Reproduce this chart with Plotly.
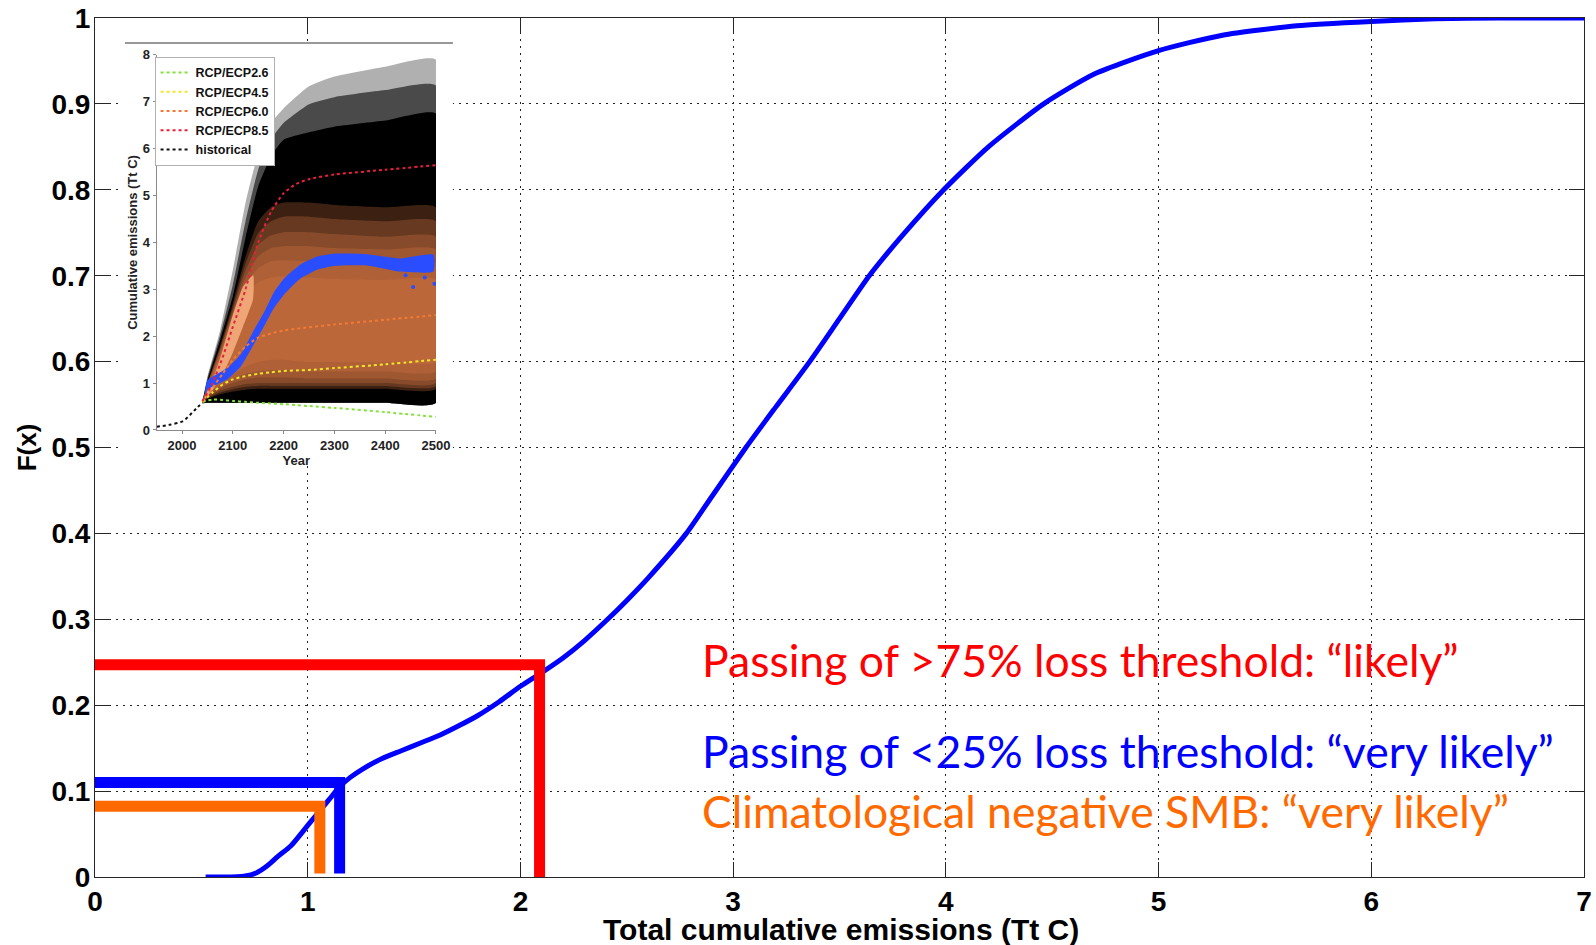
import plotly.graph_objects as go

# ---------------- main chart data ----------------
cdf_x = [0.52, 0.60, 0.70, 0.76, 0.81, 0.86, 0.92, 1.00, 1.05, 1.10, 1.15, 1.20, 1.26,
         1.35, 1.44, 1.53, 1.62, 1.71, 1.80, 1.90, 2.00, 2.10, 2.20, 2.30, 2.41, 2.50,
         2.60, 2.78, 2.90, 3.06, 3.20, 3.36, 3.50, 3.64, 3.80, 3.99, 4.20, 4.46, 4.70,
         5.00, 5.30, 5.65, 6.00, 6.30, 6.60, 7.00]
cdf_F = [0.000, 0.000, 0.001, 0.005, 0.013, 0.024, 0.036, 0.060, 0.075, 0.090, 0.105,
         0.116, 0.126, 0.138, 0.147, 0.156, 0.165, 0.176, 0.188, 0.204, 0.222, 0.238,
         0.255, 0.275, 0.300, 0.322, 0.348, 0.400, 0.443, 0.500, 0.547, 0.600, 0.650,
         0.700, 0.748, 0.800, 0.850, 0.900, 0.935, 0.962, 0.980, 0.991, 0.996, 0.999,
         1.000, 1.000]

# threshold markers: (level on F axis, emission value)
red_level, red_x = 0.247, 2.09
blue_level, blue_x = 0.110, 1.15
orange_level, orange_x = 0.0825, 1.057
bar_floor = 0.004

x_ticks = [0, 1, 2, 3, 4, 5, 6, 7]
y_ticks = [0, 0.1, 0.2, 0.3, 0.4, 0.5, 0.6, 0.7, 0.8, 0.9, 1]

text_red = "Passing of >75% loss threshold: \u201clikely\u201d"
text_blue = "Passing of <25% loss threshold: \u201cvery likely\u201d"
text_orange = "Climatological negative SMB: \u201cvery likely\u201d"

# ---------------- inset data ----------------
hist_years = [1950, 1975, 2000, 2010, 2020, 2030, 2040]
hist_vals = [0.07, 0.11, 0.18, 0.26, 0.37, 0.48, 0.58]

fan_years = [2040, 2050, 2075, 2100, 2125, 2150, 2175, 2200, 2250, 2300, 2400, 2500]
fan_floor = [0.57, 0.58, 0.58, 0.58, 0.58, 0.58, 0.58, 0.58, 0.58, 0.58, 0.58, 0.58]
fan_sparse_top = [0.6, 1.14, 2.13, 3.41, 4.84, 5.90, 6.54, 6.86, 7.33, 7.54, 7.75, 7.90]
fan_gray_top = [0.6, 1.10, 2.02, 3.10, 4.45, 5.55, 6.20, 6.55, 6.95, 7.10, 7.25, 7.35]
fan_dense_top = [0.6, 1.05, 1.92, 2.85, 4.10, 5.20, 5.83, 6.19, 6.35, 6.47, 6.60, 6.75]
# nested orange glow bands (outer to inner)
glow_lo = [
    [0.58, 0.66, 0.76, 0.82, 0.86, 0.88, 0.88, 0.88, 0.88, 0.88, 0.88, 0.88],
    [0.58, 0.68, 0.80, 0.87, 0.92, 0.94, 0.94, 0.94, 0.94, 0.94, 0.94, 0.94],
    [0.58, 0.70, 0.84, 0.92, 0.98, 1.00, 1.00, 1.00, 1.00, 1.00, 1.00, 1.00],
    [0.58, 0.73, 0.90, 1.00, 1.08, 1.12, 1.12, 1.12, 1.10, 1.10, 1.10, 1.10],
    [0.58, 0.76, 0.95, 1.10, 1.20, 1.25, 1.28, 1.28, 1.25, 1.25, 1.25, 1.25],
    [0.58, 0.78, 1.00, 1.20, 1.35, 1.45, 1.50, 1.50, 1.45, 1.45, 1.45, 1.45],
]
glow_hi = [
    [0.60, 0.99, 1.80, 2.70, 3.70, 4.45, 4.75, 4.85, 4.85, 4.80, 4.75, 4.75],
    [0.60, 0.98, 1.76, 2.62, 3.55, 4.20, 4.45, 4.55, 4.55, 4.50, 4.45, 4.45],
    [0.60, 0.96, 1.72, 2.55, 3.40, 3.95, 4.15, 4.22, 4.22, 4.18, 4.12, 4.12],
    [0.60, 0.94, 1.68, 2.48, 3.25, 3.70, 3.88, 3.92, 3.92, 3.88, 3.85, 3.85],
    [0.60, 0.92, 1.62, 2.42, 3.10, 3.45, 3.60, 3.62, 3.60, 3.58, 3.55, 3.55],
    [0.60, 0.90, 1.55, 2.30, 2.90, 3.15, 3.25, 3.28, 3.25, 3.22, 3.20, 3.20],
]
core_years = [2045, 2060, 2080, 2100, 2120, 2140]
core_lo = [0.66, 0.85, 1.20, 1.65, 2.20, 2.80]
core_hi = [0.72, 1.05, 1.70, 2.45, 3.05, 3.30]

blue_years = [2045, 2050, 2090, 2116, 2142, 2161, 2181, 2201, 2233, 2266, 2299, 2364, 2429, 2495]
blue_lo = [0.70, 0.86, 1.09, 1.36, 1.84, 2.20, 2.60, 2.89, 3.23, 3.42, 3.50, 3.51, 3.38, 3.38]
blue_hi = [0.80, 1.06, 1.33, 1.62, 2.14, 2.50, 2.94, 3.23, 3.53, 3.70, 3.76, 3.75, 3.66, 3.74]
blue_pts_years = [2440, 2455, 2462, 2478, 2488, 2497, 2470]
blue_pts_vals = [3.30, 3.05, 3.62, 3.25, 3.45, 3.12, 3.50]

scen_years = [2040, 2060, 2080, 2100, 2125, 2150, 2175, 2200, 2225, 2250, 2300, 2400, 2500]
rcp26 = [0.60, 0.65, 0.64, 0.62, 0.60, 0.58, 0.565, 0.55, 0.53, 0.51, 0.47, 0.38, 0.28]
rcp45 = [0.60, 0.80, 0.97, 1.08, 1.15, 1.20, 1.23, 1.26, 1.27, 1.28, 1.32, 1.40, 1.50]
rcp60 = [0.60, 0.90, 1.20, 1.50, 1.78, 1.97, 2.06, 2.12, 2.16, 2.19, 2.25, 2.35, 2.45]
rcp85 = [0.62, 1.00, 1.55, 2.20, 3.00, 4.00, 4.65, 5.05, 5.25, 5.35, 5.45, 5.55, 5.65]

inset_xticks = [2000, 2100, 2200, 2300, 2400, 2500]
inset_yticks = [0, 1, 2, 3, 4, 5, 6, 7, 8]

# inset placement (fractions of the main plotting area)
panel_x = [0.018, 0.2404]
panel_y = [0.483, 0.971]

# ---------------- figure ----------------
fig = go.Figure()

SANS = "Liberation Sans, Arial, sans-serif"
AX_FONT = dict(family=SANS, size=28, color="black", weight="bold")

# white panel behind the inset: a filled trace on the main axes (drawn above the grid)
px0, px1 = panel_x[0] * 7, panel_x[1] * 7
fig.add_trace(go.Scatter(x=[px0, px1, px1, px0, px0],
                         y=[panel_y[0], panel_y[0], panel_y[1], panel_y[1], panel_y[0]],
                         fill="toself", fillcolor="white", mode="lines",
                         line=dict(width=0, color="white"), showlegend=False,
                         hoverinfo="skip", xaxis="x", yaxis="y"))
fig.add_trace(go.Scatter(x=[px0 + 0.015, px1], y=[panel_y[1], panel_y[1]],
                         mode="lines", line=dict(color="#777777", width=1.5),
                         showlegend=False, hoverinfo="skip", xaxis="x", yaxis="y"))

# main CDF curve
fig.add_trace(go.Scatter(x=cdf_x, y=cdf_F, mode="lines",
                         line=dict(color="#0000ff", width=5, shape="spline", smoothing=0.6),
                         showlegend=False, hoverinfo="skip", xaxis="x", yaxis="y"))

# threshold markers
for lvl, xv, col, floor in [(orange_level, orange_x, "#ff6a00", bar_floor),
                            (blue_level, blue_x, "#0000ff", bar_floor),
                            (red_level, red_x, "#ff0000", 0.0)]:
    fig.add_trace(go.Scatter(x=[0, xv, xv], y=[lvl, lvl, floor], mode="lines",
                             line=dict(color=col, width=11),
                             showlegend=False, hoverinfo="skip", xaxis="x", yaxis="y"))

# ---- inset traces ----
def band(xs, lo, hi, color):
    fig.add_trace(go.Scatter(x=list(xs) + list(xs)[::-1], y=list(hi) + list(lo)[::-1],
                             fill="toself", fillcolor=color, mode="lines",
                             line=dict(width=0, color=color, shape="spline", smoothing=0.5),
                             showlegend=False, hoverinfo="skip", xaxis="x2", yaxis="y2"))

band(fan_years, fan_floor, fan_sparse_top, "#b0b0b0")
band(fan_years, fan_floor, fan_gray_top, "#4a4a4a")
band(fan_years, fan_floor, fan_dense_top, "#000000")
for lo, hi in zip(glow_lo, glow_hi):
    band(fan_years, lo, hi, "rgba(220,122,70,0.27)")
band(core_years, core_lo, core_hi, "rgba(248,176,128,0.85)")
band(blue_years, blue_lo, blue_hi, "#2a4dff")
fig.add_trace(go.Scatter(x=blue_pts_years, y=blue_pts_vals, mode="markers",
                         marker=dict(color="#2a4dff", size=4), showlegend=False,
                         hoverinfo="skip", xaxis="x2", yaxis="y2"))

for name, vals, col in [("RCP/ECP2.6", rcp26, "#84e23c"),
                        ("RCP/ECP4.5", rcp45, "#f2e62a"),
                        ("RCP/ECP6.0", rcp60, "#f07a36"),
                        ("RCP/ECP8.5", rcp85, "#e8203c")]:
    fig.add_trace(go.Scatter(x=scen_years, y=vals, mode="lines", name=name,
                             line=dict(color=col, width=2, dash="dot", shape="spline",
                                       smoothing=0.6),
                             hoverinfo="skip", xaxis="x2", yaxis="y2"))
fig.add_trace(go.Scatter(x=hist_years, y=hist_vals, mode="lines", name="historical",
                         line=dict(color="#111111", width=2, dash="dot", shape="spline"),
                         hoverinfo="skip", xaxis="x2", yaxis="y2"))

# annotations
ann_font = "Lato, Carlito, sans-serif"
for txt, yv, col in [(text_red, 0.2527, "#ff0000"), (text_blue, 0.1477, "#0000ff"),
                     (text_orange, 0.0779, "#ff6a00")]:
    fig.add_annotation(x=2.845, y=yv, xref="x", yref="y", text=txt, showarrow=False,
                       xanchor="left", yanchor="middle",
                       font=dict(family=ann_font, size=44.5, color=col))

# x axis title placed close to the tick labels (as in the reference)
fig.add_annotation(x=0.501, y=-0.061, xref="paper", yref="paper",
                   text="Total cumulative emissions (Tt C)", showarrow=False,
                   xanchor="center", yanchor="middle",
                   font=dict(family=SANS, size=30, color="black", weight="bold"))

grid_kw = dict(showgrid=True, gridcolor="#222222", gridwidth=1, griddash="2px,5px",
               showline=True, linecolor="#262626", linewidth=1, mirror="ticks",
               ticks="inside", ticklen=15, tickcolor="#262626", tickwidth=1,
               zeroline=False, tickfont=AX_FONT, automargin=False)

inset_tick_font = dict(family=SANS, size=13, color="#222222", weight="bold")

fig.update_layout(
    width=1596, height=945,
    margin=dict(l=95, r=12, t=18, b=68, autoexpand=False),
    paper_bgcolor="white", plot_bgcolor="white",
    xaxis=dict(range=[0, 7], tickvals=x_ticks, domain=[0, 1],
               ticklabelstandoff=-1, **grid_kw),
    yaxis=dict(range=[0, 1], tickvals=y_ticks, domain=[0, 1],
               title=dict(text="F(x)", standoff=7,
                          font=dict(family=SANS, size=26, color="black", weight="bold")),
               ticklabelstandoff=-2, **grid_kw),
    xaxis2=dict(domain=[0.0414, 0.229], anchor="y2", range=[1950, 2500],
                tickvals=inset_xticks, showgrid=False, zeroline=False, automargin=False,
                showline=True, linecolor="#8a8a8a", linewidth=1, ticks="outside",
                ticklen=3, tickcolor="#8a8a8a", tickfont=inset_tick_font,
                title=dict(text="Year", standoff=1,
                           font=dict(family=SANS, size=13, color="#222222", weight="bold"))),
    yaxis2=dict(domain=[0.5204, 0.957], anchor="x2", range=[0, 8],
                tickvals=inset_yticks, showgrid=False, zeroline=False, automargin=False,
                showline=True, linecolor="#8a8a8a", linewidth=1, ticks="outside",
                ticklen=3, tickcolor="#8a8a8a", tickfont=inset_tick_font,
                title=dict(text="Cumulative emissions (Tt C)", standoff=2,
                           font=dict(family=SANS, size=13, color="#222222", weight="bold"))),
    legend=dict(x=0.040, y=0.9546, xanchor="left", yanchor="top",
                bgcolor="white", bordercolor="#b0b0b0", borderwidth=1,
                font=dict(family=SANS, size=12.5, color="#111111", weight="bold"),
                itemwidth=30, tracegroupgap=0),
    showlegend=True,
)

fig.write_html("out.html", config={"displayModeBar": False},
               post_script="document.body.style.margin='0px';")
